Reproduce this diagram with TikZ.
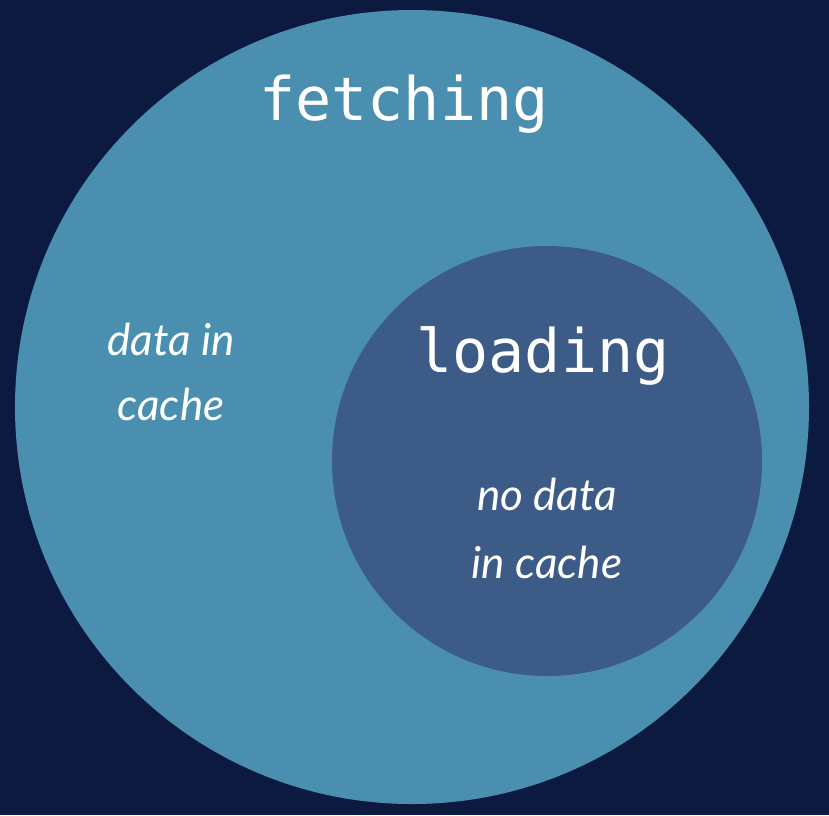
\documentclass[tikz,border=0pt]{standalone}
\usepackage{fontspec}
\newfontfamily\monof{DejaVu Sans Mono}
\newfontfamily\itf{Lato Italic}
\definecolor{bgnavy}{HTML}{0B1A3E}
\definecolor{outerc}{HTML}{4A8FAF}
\definecolor{innerc}{HTML}{3C5B87}
\begin{document}
\begin{tikzpicture}[x=1pt,y=-1pt,
  label mono/.style={text=white,font=\monof\fontsize{60}{60}\selectfont,anchor=base,inner sep=0},
  label it/.style={text=white,font=\itf\fontsize{44}{44}\selectfont,anchor=base,inner sep=0}]
\fill[bgnavy] (0,0) rectangle (829,815);
\useasboundingbox (0,0) rectangle (829,815);
\fill[outerc] (412,407) circle[radius=397];
\fill[innerc] (547,461) circle[radius=215];
\node[label mono] (fetch) at (404,120) {fetching};
\node[label mono] (load) at (543,372) {loading};
\node[label it] (d1) at (171,355) {data in};
\node[label it] (d2) at (171,420) {cache};
\node[label it] (n1) at (547,510) {no data};
\node[label it] (n2) at (547,578) {in cache};
\end{tikzpicture}
\end{document}
